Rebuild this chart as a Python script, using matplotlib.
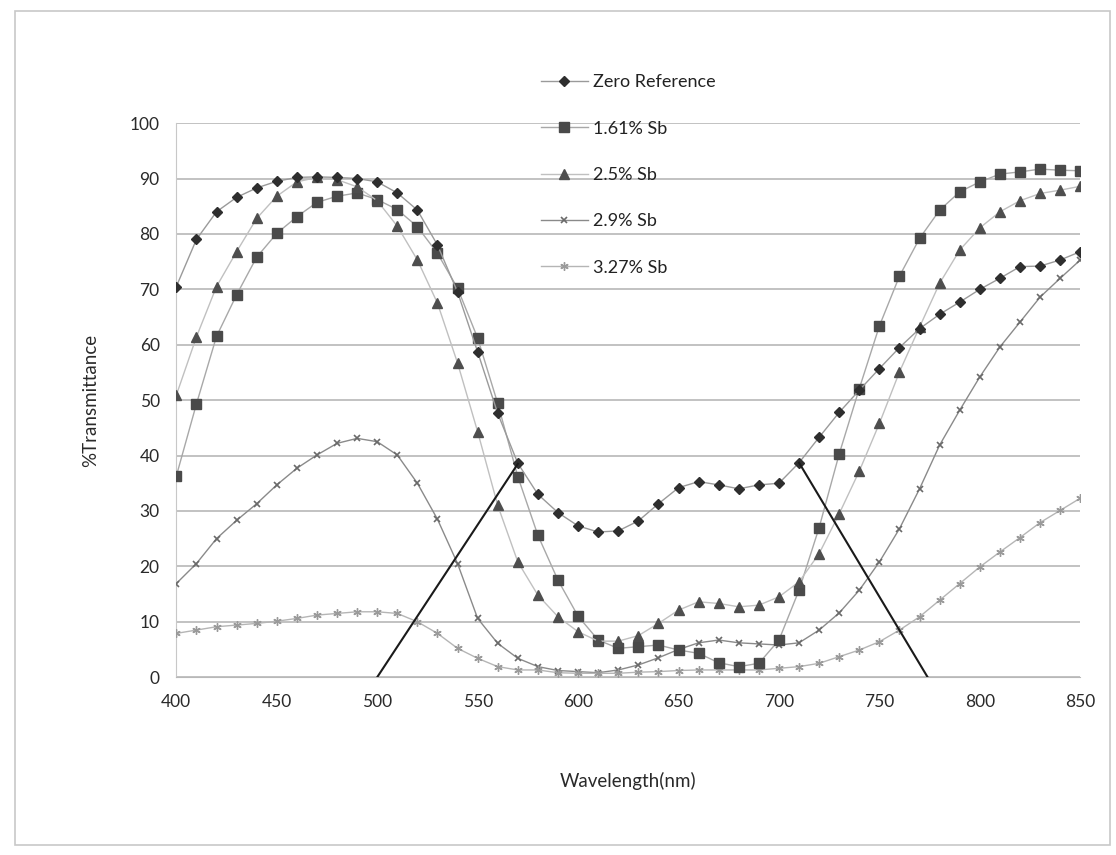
import numpy as np
import matplotlib
matplotlib.use("Agg")
import matplotlib.pyplot as plt
from matplotlib.patches import Rectangle

plt.rcParams['font.family'] = ['Lato', 'DejaVu Sans']

# Wavelength (nm)
wavelength = np.arange(400, 851, 10)

# %Transmittance
zero_ref = [70.5, 79.0, 84.0, 86.6, 88.3, 89.5, 90.2, 90.3, 90.2, 90.0,
            89.4, 87.4, 84.3, 78.0, 69.5, 58.7, 47.6, 38.6, 33.0, 29.7,
            27.3, 26.2, 26.4, 28.2, 31.3, 34.2, 35.3, 34.7, 34.0, 34.7,
            35.0, 38.7, 43.3, 47.8, 51.8, 55.7, 59.5, 62.9, 65.5, 67.7,
            70.0, 72.0, 74.1, 74.2, 75.3, 76.8]
sb_161 = [36.3, 49.3, 61.5, 69.0, 75.8, 80.1, 83.1, 85.7, 86.8, 87.4,
          86.2, 84.4, 81.3, 76.5, 70.2, 61.2, 49.4, 36.2, 25.6, 17.5,
          11.0, 6.7, 5.2, 5.5, 5.8, 4.9, 4.3, 2.6, 1.9, 2.5,
          6.7, 15.7, 27.0, 40.3, 52.1, 63.4, 72.4, 79.2, 84.3, 87.6,
          89.4, 90.8, 91.2, 91.7, 91.5, 91.4]
sb_25 = [50.9, 61.4, 70.5, 76.8, 82.8, 86.8, 89.4, 90.2, 89.8, 88.5,
         86.0, 81.4, 75.3, 67.5, 56.7, 44.3, 31.0, 20.8, 14.8, 10.9,
         8.2, 6.5, 6.5, 7.5, 9.7, 12.1, 13.6, 13.3, 12.7, 13.0,
         14.5, 17.2, 22.3, 29.5, 37.2, 45.8, 55.1, 63.2, 71.1, 77.1,
         81.1, 84.0, 86.0, 87.3, 87.9, 88.6]
sb_29 = [16.9, 20.5, 25.0, 28.3, 31.3, 34.7, 37.7, 40.1, 42.2, 43.1,
         42.5, 40.1, 35.0, 28.5, 20.5, 10.6, 6.1, 3.4, 1.9, 1.2,
         1.0, 0.8, 1.3, 2.2, 3.5, 5.0, 6.2, 6.7, 6.2, 6.0,
         5.8, 6.2, 8.5, 11.6, 15.7, 20.8, 26.8, 34.0, 41.9, 48.2,
         54.2, 59.6, 64.1, 68.6, 72.0, 75.3]
sb_327 = [7.9, 8.5, 9.1, 9.4, 9.7, 10.1, 10.6, 11.2, 11.5, 11.8,
          11.8, 11.5, 10.0, 7.9, 5.2, 3.4, 1.9, 1.3, 1.3, 0.8,
          0.7, 0.7, 0.7, 0.9, 1.0, 1.2, 1.3, 1.3, 1.3, 1.3,
          1.6, 1.9, 2.5, 3.7, 4.9, 6.4, 8.5, 10.9, 13.9, 16.9,
          19.9, 22.6, 25.2, 27.9, 30.1, 32.3]

# tangent lines drawn on the chart
tan1_x = [500, 570]
tan1_y = [0, 38.5]
tan2_x = [710, 774]
tan2_y = [38.7, 0]

fig = plt.figure(figsize=(11.16, 8.55), dpi=100)
fig.patches.append(Rectangle((0.013, 0.012), 0.982, 0.975, transform=fig.transFigure,
                             fill=False, edgecolor="#c8c8c8", linewidth=1.2))
ax = fig.add_axes([0.158, 0.208, 0.810, 0.648])

ax.plot(wavelength, zero_ref, color="#9a9a9a", lw=1, marker="D", ms=5.5,
        mfc="#2e2e2e", mec="#2e2e2e", label="Zero Reference", zorder=5)
ax.plot(wavelength, sb_161, color="#a8a8a8", lw=1, marker="s", ms=6.5,
        mfc="#4a4a4a", mec="#4a4a4a", label="1.61% Sb", zorder=4)
ax.plot(wavelength, sb_25, color="#c0c0c0", lw=1, marker="^", ms=6.5,
        mfc="#4e4e4e", mec="#4e4e4e", label="2.5% Sb", zorder=4)
ax.plot(wavelength, sb_29, color="#8a8a8a", lw=1, marker="x", ms=5,
        mew=1.2, mec="#6a6a6a", label="2.9% Sb", zorder=3)
ax.plot(wavelength, sb_327, color="#b5b5b5", lw=1, marker=(6, 2, 0), ms=6,
        mew=1, mec="#9a9a9a", label="3.27% Sb", zorder=3)

ax.plot(tan1_x, tan1_y, color="#1a1a1a", lw=1.5, zorder=6)
ax.plot(tan2_x, tan2_y, color="#1a1a1a", lw=1.5, zorder=6)

ax.set_xlim(400, 850)
ax.set_ylim(0, 100)
ax.set_xticks(np.arange(400, 851, 50))
ax.set_yticks(np.arange(0, 101, 10))
ax.yaxis.grid(True, color="#b8b8b8", lw=1.2)
ax.set_axisbelow(True)
ax.tick_params(length=0, labelsize=12.5, colors="#2a2a2a", pad=12)
for s in ["top", "right"]:
    ax.spines[s].set_visible(False)
ax.spines["left"].set_color("#c8c8c8")
ax.spines["bottom"].set_color("#b8b8b8")

ax.set_xlabel("Wavelength(nm)", fontsize=13.5, color="#2a2a2a", labelpad=45)
ax.set_ylabel("%Transmittance", fontsize=13.5, color="#2a2a2a", labelpad=22)

fig.legend(loc="upper left", bbox_to_anchor=(0.47, 0.932), frameon=False,
           fontsize=13, labelspacing=1.68, handlelength=2.6, handletextpad=0.3,
           labelcolor="#222222")

plt.savefig("out.png", dpi=100)
